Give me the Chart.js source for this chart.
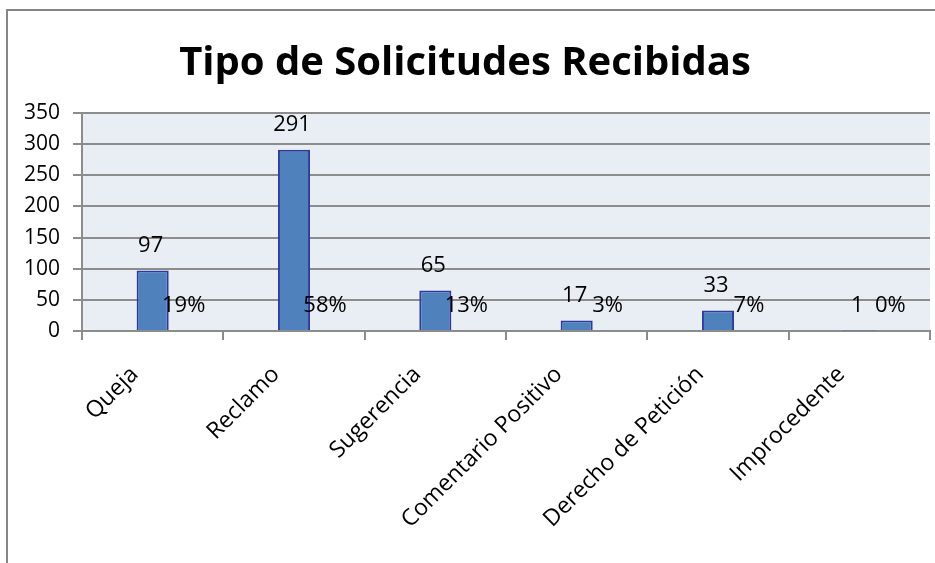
<!DOCTYPE html>
<html>
<head>
<meta charset="utf-8">
<script src="https://cdn.jsdelivr.net/npm/chart.js@4.4.0/dist/chart.umd.min.js"></script>
<style>
    body { margin: 0; background: #fff; }
    #frame {
        position: absolute; left: 6px; top: 9px; width: 1000px; height: 600px;
        border-left: 2px solid #858585; border-top: 2px solid #858585;
    }
    #wrap { position: absolute; left: 0; top: 0; width: 935px; height: 563px; }
</style>
</head>
<body>
<div id="frame"></div>
<div id="wrap"><canvas id="solicitudesChart"></canvas></div>
<script>
// datos
const categorias = ['Queja', 'Reclamo', 'Sugerencia', 'Comentario Positivo', 'Derecho de Petición', 'Improcedente'];
const cantidades = [97, 291, 65, 17, 33, 1];
const porcentajes = ['19%', '58%', '13%', '3%', '7%', '0%'];
const ticksY = [0, 50, 100, 150, 200, 250, 300, 350];

const fuente = "'Open Sans', sans-serif";
const gris = '#8c8c8c';

// fondo del area de trazado
const fondoPlot = {
    id: 'fondoPlot',
    beforeDraw(chart) {
        const { ctx, chartArea: a } = chart;
        ctx.save();
        ctx.fillStyle = '#e9edf4';
        ctx.fillRect(a.left, a.top, a.right - a.left, a.bottom - a.top);
        ctx.restore();
    }
};

// etiquetas de valor y porcentaje
const etiquetas = {
    id: 'etiquetas',
    afterDatasetsDraw(chart) {
        const ctx = chart.ctx;
        const x = chart.scales.x, y = chart.scales.y;
        ctx.save();
        ctx.font = '22px ' + fuente;
        ctx.fillStyle = '#000';
        ctx.textAlign = 'center';
        ctx.textBaseline = 'middle';
        cantidades.forEach((v, i) => {
            ctx.fillText(String(v), x.getPixelForValue(i) - 2, y.getPixelForValue(v) - 25);
            ctx.fillText(porcentajes[i], x.getPixelForValue(i) + 31, y.getPixelForValue(0) - 25);
        });
        ctx.restore();
    }
};

let ctx = document.getElementById('solicitudesChart').getContext('2d');

let solicitudesChart = new Chart(ctx, {
    type: 'bar',
    data: {
        labels: categorias,
        datasets: [
            {
                label: 'Solicitudes',
                data: cantidades,
                backgroundColor: '#4f81bd',
                borderColor: '#2e3b9c',
                borderWidth: 2,
                borderSkipped: 'bottom',
                categoryPercentage: 1,
                barPercentage: 0.227
            }
        ]
    },
    options: {
        responsive: true,
        maintainAspectRatio: false,
        animation: false,
        layout: { padding: { left: 0, right: 5, top: 0, bottom: 0 } },
        plugins: {
            legend: { display: false },
            tooltip: { enabled: false },
            title: {
                display: true,
                text: 'Tipo de Solicitudes Recibidas',
                color: '#000',
                font: { family: fuente, size: 40, weight: 'bold', lineHeight: 1.2 },
                padding: { top: 40, bottom: 25 }
            }
        },
        scales: {
            y: {
                min: 0,
                max: 350,
                afterBuildTicks(s) { s.ticks = ticksY.map(v => ({ value: v })); },
                afterFit(s) { s.width = 82; },
                ticks: { color: '#000', font: { family: fuente, size: 21 }, padding: 13 },
                grid: { color: gris, lineWidth: 2, tickLength: 9 },
                border: { color: gris, width: 2 }
            },
            x: {
                afterFit(s) { s.height = 232; },
                ticks: {
                    color: '#000',
                    font: { family: fuente, size: 23 },
                    minRotation: 45,
                    maxRotation: 45,
                    padding: 21,
                    labelOffset: -18
                },
                grid: { offset: true, drawOnChartArea: false, color: gris, lineWidth: 2, tickLength: 9 },
                border: { color: gris, width: 2 }
            }
        }
    },
    plugins: [fondoPlot, etiquetas]
});
</script>
</body>
</html>
